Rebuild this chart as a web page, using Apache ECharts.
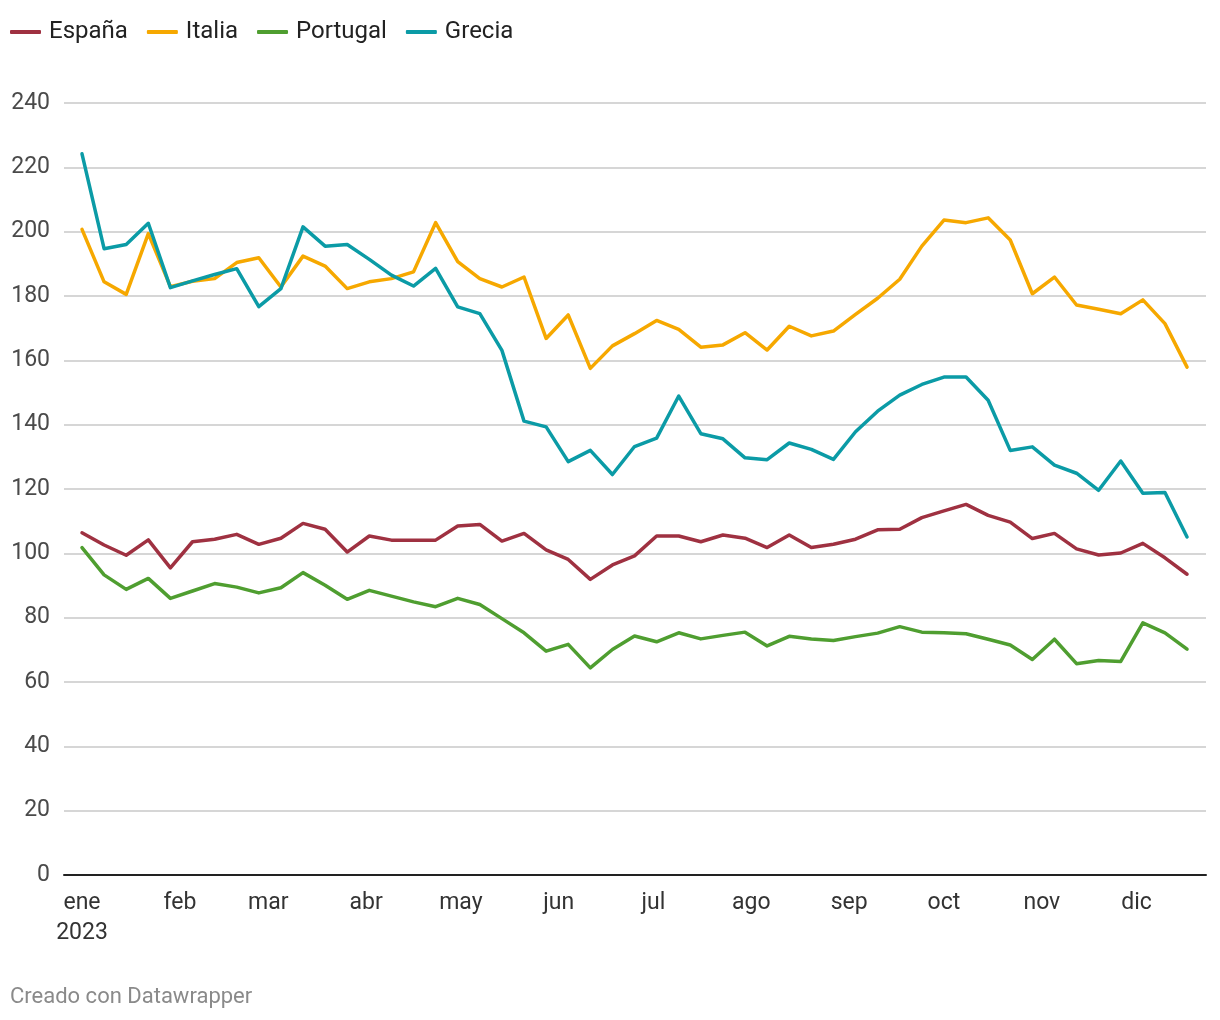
<!DOCTYPE html>
<html>
<head>
<meta charset="utf-8">
<script src="https://cdn.jsdelivr.net/npm/echarts@6/dist/echarts.min.js"></script>
<style>
  html, body { margin: 0; padding: 0; background: #ffffff; }
  #chart { width: 1220px; height: 1020px; }
</style>
</head>
<body>
<div id="chart"></div>
<script>
// Weekly observations, 2023 (day offset from 1 January)
const weekCount = 51;
const dayOffsets = Array.from({ length: weekCount }, (_, i) => i * 7);

const seriesNames = ['España', 'Italia', 'Portugal', 'Grecia'];

const espana = [106.4, 102.6, 99.4, 104.2, 95.5, 103.6, 104.4, 105.9, 102.8, 104.7, 109.3, 107.5, 100.4,
  105.4, 104.1, 104.1, 104.1, 108.5, 109.0, 103.8, 106.2, 101.1, 98.1, 91.9, 96.4,
  99.2, 105.4, 105.4, 103.6, 105.7, 104.7, 101.8, 105.7, 101.8, 102.8, 104.4, 107.3, 107.5,
  111.1, 113.2, 115.2, 111.8, 109.7, 104.6, 106.2, 101.4, 99.5, 100.1, 103.1, 98.6, 93.5];

const italia = [200.7, 184.4, 180.5, 199.4, 182.9, 184.6, 185.4, 190.4, 191.9, 182.8, 192.4, 189.3, 182.3,
  184.4, 185.4, 187.5, 202.8, 190.7, 185.4, 182.8, 185.9, 166.8, 174.1, 157.5, 164.5,
  168.3, 172.4, 169.6, 164.1, 164.8, 168.6, 163.2, 170.6, 167.6, 169.1, 174.3, 179.3, 185.2,
  195.5, 203.6, 202.8, 204.3, 197.4, 180.7, 185.9, 177.2, 175.9, 174.5, 178.8, 171.4, 157.9];

const portugal = [101.8, 93.3, 88.8, 92.2, 86.0, 88.3, 90.6, 89.5, 87.7, 89.3, 94.0, 90.1, 85.7,
  88.5, 86.7, 84.9, 83.4, 86.0, 84.1, 79.7, 75.3, 69.6, 71.7, 64.4, 70.1,
  74.3, 72.5, 75.3, 73.4, 74.5, 75.5, 71.2, 74.2, 73.4, 72.9, 74.1, 75.2, 77.2,
  75.5, 75.3, 75.0, 73.3, 71.5, 67.0, 73.3, 65.7, 66.7, 66.4, 78.4, 75.3, 70.2];

const grecia = [224.2, 194.7, 196.0, 202.6, 182.6, 184.7, 186.7, 188.5, 176.7, 182.3, 201.5, 195.5, 196.0,
  191.4, 186.5, 183.1, 188.6, 176.6, 174.5, 163.1, 141.1, 139.3, 128.5, 132.0, 124.5,
  133.2, 135.8, 148.9, 137.2, 135.6, 129.7, 129.1, 134.3, 132.3, 129.2, 137.8, 144.2, 149.2,
  152.5, 154.8, 154.8, 147.6, 132.0, 133.1, 127.4, 124.9, 119.6, 128.7, 118.7, 118.9, 105.1];

// Month starts (day of year, 0-based) and their tick labels
const monthStarts = [0, 31, 59, 90, 120, 151, 181, 212, 243, 273, 304, 334];
const monthLabels = ['ene\n2023', 'feb', 'mar', 'abr', 'may', 'jun', 'jul', 'ago', 'sep', 'oct', 'nov', 'dic'];

const yTicks = [0, 20, 40, 60, 80, 100, 120, 140, 160, 180, 200, 220, 240];

const colors = ['#9f3141', '#f6a800', '#4f9e30', '#0b9ba6'];
const values = [espana, italia, portugal, grecia];

const FONT = 'Roboto, "Noto Sans", sans-serif';

const chart = echarts.init(document.getElementById('chart'), null, { renderer: 'canvas' });

chart.setOption({
  backgroundColor: '#ffffff',
  animation: false,
  color: colors,
  textStyle: { fontFamily: FONT },
  legend: {
    left: 10,
    top: 20,
    padding: 0,
    itemGap: 19,
    itemWidth: 31,
    itemHeight: 4,
    icon: 'roundRect',
    textStyle: { fontFamily: FONT, fontSize: 24, color: '#222', lineHeight: 24, padding: [0, 0, 0, 3] },
    data: seriesNames
  },
  grid: { left: 64, right: 14, top: 103, bottom: 145 },
  xAxis: {
    type: 'value',
    min: -5.7,
    max: 356,
    splitLine: { show: false },
    axisTick: { show: false },
    axisLine: { show: true, onZero: false, lineStyle: { color: '#222', width: 2 } },
    axisLabel: {
      customValues: monthStarts,
      formatter: function (v) {
        const idx = monthStarts.indexOf(v);
        return idx >= 0 ? monthLabels[idx] : '';
      },
      fontFamily: FONT,
      fontSize: 23,
      lineHeight: 30,
      color: '#333',
      margin: 13
    }
  },
  yAxis: {
    type: 'value',
    min: yTicks[0],
    max: yTicks[yTicks.length - 1],
    interval: 20,
    axisLine: { show: false },
    axisTick: { show: false },
    splitLine: { show: true, lineStyle: { color: '#d6d6d6', width: 2 } },
    axisLabel: {
      fontFamily: FONT,
      fontSize: 23,
      color: '#4a4a4a',
      margin: 14,
      align: 'right'
    }
  },
  series: seriesNames.map((name, s) => ({
    name: name,
    type: 'line',
    symbol: 'none',
    smooth: false,
    data: dayOffsets.map((d, i) => [d, values[s][i]]),
    lineStyle: { width: 3.5, color: colors[s], cap: 'round', join: 'round' },
    itemStyle: { color: colors[s] },
    emphasis: { disabled: true },
    z: 2 + s
  })),
  graphic: [{
    type: 'text',
    left: 10,
    top: 986,
    style: {
      text: 'Creado con Datawrapper',
      fontFamily: FONT,
      fontSize: 22,
      fill: '#8a8a8a'
    }
  }]
});
</script>
</body>
</html>
